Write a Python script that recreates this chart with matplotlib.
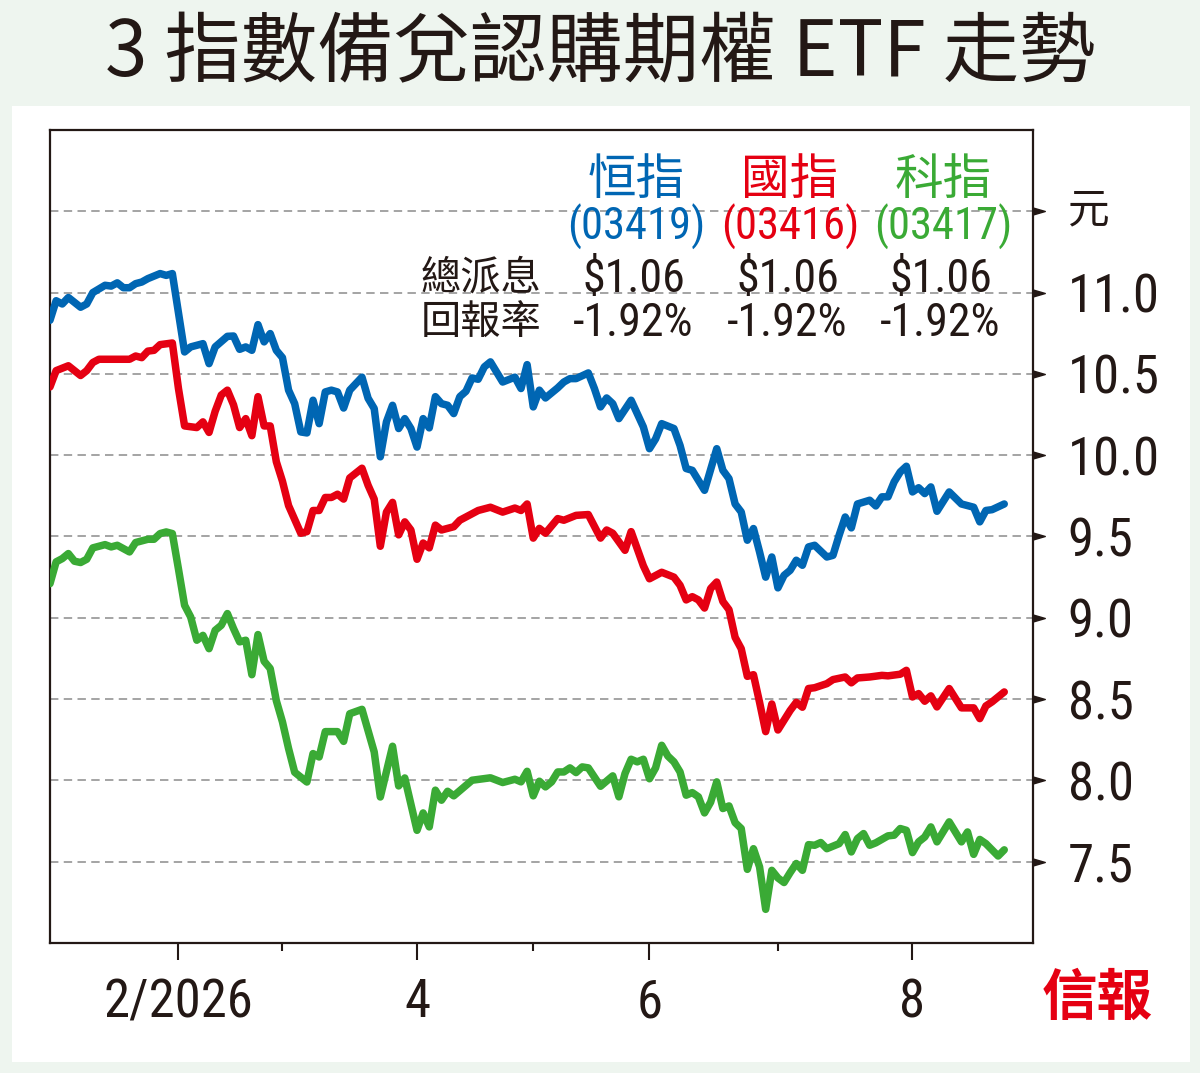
import matplotlib
matplotlib.use('Agg')
import matplotlib.pyplot as plt
import matplotlib.transforms as mtransforms
from matplotlib.patches import Rectangle

# ---------------- data (x = trading-day index counted from 2 Jan 2026) ----------------
hsi_days = [0, 1, 2, 3, 5, 6, 7, 9, 10, 11, 12, 13, 14, 15, 16, 18, 19, 20, 22, 23, 25, 26, 27, 29, 30,
            31, 32, 33, 34, 35, 36, 37, 38, 39, 40, 41, 42, 43, 44, 45, 46, 47, 48, 49, 51, 52, 53, 54,
            55, 56, 57, 58, 59, 60, 61, 62, 63, 64, 65, 66, 67, 68, 69, 70, 71, 72, 74, 76, 77, 78, 79,
            80, 81, 83, 84, 85, 86, 88, 89, 90, 91, 92, 93, 95, 97, 98, 99, 100, 102, 103, 104, 105,
            107, 109, 110, 111, 112, 113, 114, 115, 116, 117, 118, 119, 120, 121, 122, 123, 124, 125,
            127, 128, 129, 130, 131, 132, 134, 135, 136, 137, 138, 139, 140, 141, 142, 143, 144, 145,
            147, 149, 151, 152, 153, 154, 156]
hsi_vals = [10.83, 10.95, 10.93, 10.97, 10.91, 10.93, 11.00, 11.045, 11.04, 11.06, 11.03, 11.03, 11.055,
            11.065, 11.086, 11.117, 11.106, 11.117, 10.635, 10.666, 10.686, 10.563, 10.666, 10.731,
            10.733, 10.651, 10.666, 10.645, 10.803, 10.697, 10.748, 10.645, 10.60, 10.40, 10.317,
            10.143, 10.137, 10.338, 10.194, 10.389, 10.40, 10.389, 10.29, 10.40, 10.48, 10.35, 10.287,
            9.99, 10.205, 10.307, 10.164, 10.225, 10.164, 10.05, 10.225, 10.168, 10.36, 10.317, 10.307,
            10.256, 10.36, 10.393, 10.475, 10.467, 10.543, 10.574, 10.45, 10.48, 10.41, 10.557, 10.297,
            10.40, 10.352, 10.414, 10.45, 10.471, 10.471, 10.506, 10.41, 10.297, 10.352, 10.317,
            10.225, 10.338, 10.174, 10.04, 10.10, 10.194, 10.164, 10.06, 9.918, 9.907, 9.784, 10.04,
            9.907, 9.856, 9.70, 9.651, 9.477, 9.549, 9.405, 9.25, 9.374, 9.184, 9.261, 9.292, 9.354,
            9.323, 9.436, 9.446, 9.374, 9.384, 9.507, 9.62, 9.553, 9.70, 9.723, 9.688, 9.744, 9.744,
            9.836, 9.897, 9.932, 9.774, 9.80, 9.764, 9.805, 9.655, 9.774, 9.70, 9.68, 9.59, 9.66,
            9.665, 9.70]

hscei_days = [0, 1, 3, 5, 6, 7, 8, 13, 14, 15, 16, 17, 18, 20, 21, 22, 24, 25, 26, 27, 28, 29, 30, 31,
              32, 33, 34, 35, 36, 37, 38, 39, 41, 42, 43, 44, 45, 46, 47, 48, 49, 51, 52, 53, 54, 55,
              56, 57, 58, 59, 60, 61, 62, 63, 64, 65, 66, 67, 69, 70, 72, 74, 76, 77, 78, 79, 80, 81,
              83, 84, 86, 88, 90, 91, 92, 94, 95, 97, 98, 100, 102, 103, 104, 105, 106, 107, 108, 109,
              110, 111, 112, 113, 114, 115, 116, 117, 118, 119, 121, 122, 123, 124, 125, 127, 128, 130,
              131, 132, 134, 136, 137, 139, 140, 141, 142, 143, 144, 145, 147, 149, 151, 152, 153, 154,
              156]
hscei_vals = [10.42, 10.52, 10.55, 10.49, 10.52, 10.57, 10.59, 10.59, 10.61, 10.60, 10.64, 10.645,
              10.68, 10.69, 10.41, 10.18, 10.17, 10.205, 10.14, 10.27, 10.37, 10.40, 10.31, 10.17,
              10.225, 10.12, 10.36, 10.18, 10.18, 9.96, 9.84, 9.69, 9.52, 9.53, 9.66, 9.66, 9.74, 9.74,
              9.76, 9.73, 9.86, 9.92, 9.815, 9.73, 9.44, 9.65, 9.71, 9.51, 9.59, 9.54, 9.36, 9.46, 9.43,
              9.57, 9.54, 9.55, 9.56, 9.60, 9.64, 9.66, 9.68, 9.65, 9.675, 9.66, 9.70, 9.49, 9.55, 9.52,
              9.61, 9.60, 9.63, 9.635, 9.49, 9.54, 9.52, 9.415, 9.53, 9.32, 9.24, 9.28, 9.25, 9.20,
              9.11, 9.13, 9.11, 9.06, 9.18, 9.22, 9.10, 9.05, 8.88, 8.81, 8.64, 8.65, 8.48, 8.30, 8.47,
              8.31, 8.43, 8.48, 8.45, 8.565, 8.57, 8.595, 8.62, 8.636, 8.60, 8.63, 8.636, 8.646, 8.643,
              8.653, 8.677, 8.513, 8.534, 8.487, 8.52, 8.452, 8.565, 8.446, 8.446, 8.38, 8.458, 8.483,
              8.544]

hstech_days = [0, 1, 2, 3, 4, 5, 6, 7, 9, 10, 11, 13, 14, 16, 17, 18, 19, 20, 21, 22, 23, 24, 25, 26,
               27, 28, 29, 30, 31, 32, 33, 34, 35, 36, 37, 38, 39, 40, 42, 43, 44, 45, 47, 48, 49, 51,
               53, 54, 56, 57, 58, 60, 61, 62, 63, 64, 65, 66, 69, 72, 74, 76, 77, 78, 79, 80, 81, 82,
               83, 84, 85, 86, 87, 88, 90, 92, 93, 94, 95, 96, 97, 98, 99, 100, 101, 102, 103, 104,
               105, 106, 107, 108, 109, 110, 111, 112, 113, 114, 115, 116, 117, 118, 119, 120, 121,
               122, 123, 124, 125, 126, 127, 129, 130, 131, 132, 133, 134, 135, 137, 138, 139, 140,
               141, 142, 143, 144, 145, 147, 149, 150, 151, 152, 153, 155, 156]
hstech_vals = [9.21, 9.344, 9.364, 9.395, 9.348, 9.34, 9.36, 9.43, 9.45, 9.436, 9.446, 9.405, 9.463,
               9.483, 9.483, 9.518, 9.528, 9.518, 9.30, 9.077, 9.005, 8.862, 8.892, 8.81, 8.923,
               8.954, 9.026, 8.934, 8.852, 8.862, 8.65, 8.897, 8.733, 8.688, 8.49, 8.36, 8.196, 8.05,
               7.99, 8.165, 8.144, 8.30, 8.30, 8.24, 8.41, 8.437, 8.175, 7.898, 8.21, 7.966, 8.015,
               7.693, 7.80, 7.714, 7.94, 7.878, 7.933, 7.905, 8.001, 8.016, 7.987, 8.007, 7.991, 8.056,
               7.905, 7.995, 7.96, 7.991, 8.052, 8.052, 8.077, 8.048, 8.083, 8.077, 7.964, 8.028,
               7.899, 8.042, 8.13, 8.114, 8.13, 8.01, 8.077, 8.216, 8.15, 8.114, 8.052, 7.909, 7.925,
               7.899, 7.80, 7.866, 7.991, 7.827, 7.843, 7.74, 7.704, 7.453, 7.58, 7.468, 7.207, 7.447,
               7.40, 7.372, 7.433, 7.489, 7.447, 7.605, 7.601, 7.618, 7.58, 7.611, 7.667, 7.56, 7.642,
               7.673, 7.601, 7.616, 7.659, 7.663, 7.704, 7.693, 7.556, 7.622, 7.652, 7.714, 7.622,
               7.745, 7.622, 7.683, 7.545, 7.637, 7.611, 7.535, 7.573]

month_days = [21, 38, 60, 79, 98, 119, 141]          # first trading day of Feb..Aug
month_labels = ['2/2026', '', '4', '', '6', '', '8']
month_major = [True, False, True, False, True, False, True]

y_ticks = [7.5, 8.0, 8.5, 9.0, 9.5, 10.0, 10.5, 11.0]
grid_levels = [7.5, 8.0, 8.5, 9.0, 9.5, 10.0, 10.5, 11.0, 11.5]
unit_level = 11.5
unit_label = '元'

fund_names = ['恒指', '國指', '科指']
fund_codes = ['(03419)', '(03416)', '(03417)']
fund_dividends = ['$1.06', '$1.06', '$1.06']
fund_returns = ['-1.92%', '-1.92%', '-1.92%']
row_labels = ['總派息', '回報率']
title = '3 指數備兌認購期權 ETF 走勢'
source = '信報'

# ---------------- style ----------------
W, H = 1200, 1073
BLUE, RED, GREEN = '#0066B3', '#E50012', '#3AAA35'
colors = [BLUE, RED, GREEN]
INK = '#231815'
CJK = ['Noto Sans CJK TC', 'DejaVu Sans']
NARROW = ['Roboto Condensed', 'Liberation Sans Narrow', 'Liberation Sans', 'Noto Sans CJK TC',
          'DejaVu Sans']

def fx(px):
    return px / W

def fy(py):
    return 1 - py / H

fig = plt.figure(figsize=(W / 100, H / 100), dpi=100)
fig.patch.set_facecolor('#EEF5EF')
fig.add_artist(Rectangle((fx(12), fy(1062)), fx(1190) - fx(12), fy(106) - fy(1062),
                         transform=fig.transFigure, facecolor='white', edgecolor='none', zorder=-10))

ax = fig.add_axes([fx(50), fy(943), fx(1033) - fx(50), fy(130) - fy(943)])
ax.set_xlim(0, 160.7)
ax.set_ylim(7.0, 12.0)
ax.set_facecolor('white')

for lv in grid_levels:
    ax.axhline(lv, color='#8c8c8c', lw=1.1, ls=(0, (5.5, 3.5)), zorder=1)

series = [(hsi_days, hsi_vals), (hscei_days, hscei_vals), (hstech_days, hstech_vals)]
for (d, v), c in zip(series, colors):
    ax.plot(d, v, color=c, lw=5.4, solid_capstyle='round', solid_joinstyle='round', zorder=3)

for s in ax.spines.values():
    s.set_linewidth(1.6)
    s.set_color(INK)

# x ticks
major_pos = [d for d, m in zip(month_days, month_major) if m]
major_lab = [l for l, m in zip(month_labels, month_major) if m]
minor_pos = [d for d, m in zip(month_days, month_major) if not m]
ax.set_xticks(major_pos, major_lab)
ax.set_xticks(minor_pos, minor=True)
ax.tick_params(axis='x', which='major', length=12.5, width=1.5, color=INK, direction='out', pad=12,
               labelsize=38, labelcolor=INK)
ax.tick_params(axis='x', which='minor', length=6, width=1.5, color=INK, direction='out')
for t in ax.get_xticklabels():
    t.set_family(NARROW)

# y ticks on right
ax.yaxis.tick_right()
ax.set_yticks(y_ticks, [f'{v:.1f}' for v in y_ticks])
ax.tick_params(axis='y', which='both', length=0, pad=25, labelsize=38, labelcolor=INK)
for t in ax.get_yticklabels():
    t.set_family(NARROW)

trans = mtransforms.blended_transform_factory(ax.transAxes, ax.transData)
ax.plot([1.0] * len(grid_levels), grid_levels, ls='none', marker=[(0, -3.5), (12, 0), (0, 3.5)],
        ms=17, color=INK, mec=INK, transform=trans, clip_on=False, zorder=5)
ax.text(1.0 + 35 / 983, unit_level, unit_label, transform=trans, ha='left', va='center',
        fontsize=30, color=INK, family=CJK)

# legend block
col_x = [636, 790, 943]
for i, c in enumerate(colors):
    fig.text(fx(col_x[i]), fy(180), fund_names[i], ha='center', va='center', fontsize=35,
             color=c, family=CJK)
    fig.text(fx(col_x[i]), fy(227), fund_codes[i], ha='center', va='center', fontsize=32,
             color=c, family=NARROW)
    fig.text(fx(col_x[i] - 2), fy(279), fund_dividends[i], ha='center', va='center', fontsize=33,
             color=INK, family=NARROW)
    fig.text(fx(col_x[i] - 3), fy(323), fund_returns[i], ha='center', va='center', fontsize=33,
             color=INK, family=NARROW)
fig.text(fx(481), fy(278), row_labels[0], ha='center', va='center', fontsize=29, color=INK, family=CJK)
fig.text(fx(481), fy(323), row_labels[1], ha='center', va='center', fontsize=29, color=INK, family=CJK)

# title and source
fig.text(0.5, fy(55), title, ha='center', va='center', fontsize=55, color=INK, family=CJK)
fig.text(fx(1097), fy(999), source, ha='center', va='center', fontsize=40, color=RED,
         family=CJK, fontweight='bold')

fig.savefig('out.png', dpi=100, facecolor=fig.get_facecolor())
